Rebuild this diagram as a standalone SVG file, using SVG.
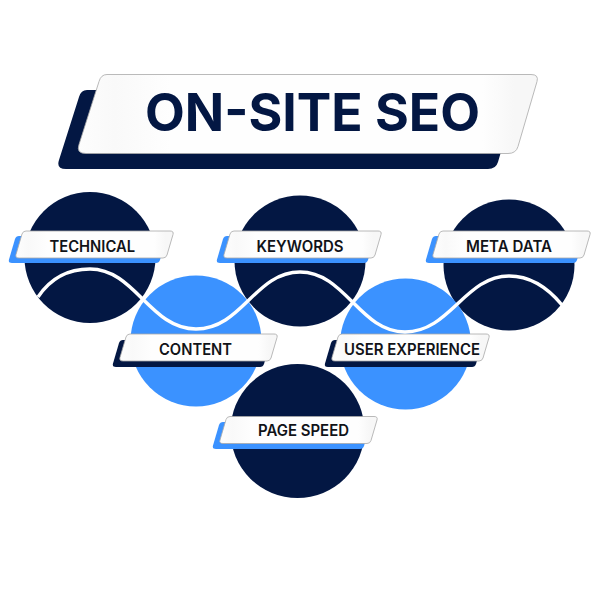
<svg xmlns="http://www.w3.org/2000/svg" width="600" height="600" viewBox="0 0 600 600">
<style>
.navy{fill:#031743}
.blue{fill:#3b92ff}
.face{fill:url(#sheen);stroke:#a8a8a8;stroke-width:.8}
.lbl{font-family:Inter,"Liberation Sans",sans-serif;font-weight:600;font-size:15.5px;fill:#111318}
.ttl{font-family:Inter,"Liberation Sans",sans-serif;font-weight:700;font-size:52px;fill:#031743}
#wave{fill:none;stroke:#fff;stroke-width:3.4}
</style>
<defs>
<linearGradient id="sheen" x1="0" y1="0" x2="1" y2="0">
<stop offset="0" stop-color="#fdfdfd"/>
<stop offset=".08" stop-color="#f9f9f9"/>
<stop offset=".2" stop-color="#fefefe"/>
<stop offset=".88" stop-color="#fefefe"/>
<stop offset=".95" stop-color="#f7f7f7"/>
<stop offset="1" stop-color="#f7f7f7"/>
</linearGradient>
<path id="tag" d="M10,0H154Q158,0 157,3.5L151,24Q150,27 147,27H3Q-1,27 0,23.5L6,3Q7,0 10,0Z"/>
<path id="banner" d="M29,0H453Q461,0 459,7L440,72Q438,79 430,79H8Q-2,79 1,70L21,7Q23,0 29,0Z"/>
</defs>
<rect width="600" height="600" fill="#fff"/>
<g id="title">
<use href="#banner" class="navy" x="58" y="90"/>
<use href="#banner" class="face" x="78" y="74.5"/>
<text class="ttl" x="145" y="130.5" textLength="335" lengthAdjust="spacingAndGlyphs">ON-SITE SEO</text>
</g>
<g id="technical">
<circle class="navy" cx="90" cy="257.5" r="65.5"/>
<use href="#tag" class="blue" x="9" y="236"/>
<use href="#tag" class="face" x="16" y="231"/>
<text class="lbl" x="49.500" y="252" textLength="85.500" lengthAdjust="spacingAndGlyphs">TECHNICAL</text>
</g>
<g id="keywords">
<circle class="navy" cx="300" cy="261" r="65.5"/>
<use href="#tag" class="blue" x="217" y="236"/>
<use href="#tag" class="face" x="224" y="231"/>
<text class="lbl" x="256.500" y="252" textLength="87" lengthAdjust="spacingAndGlyphs">KEYWORDS</text>
</g>
<g id="meta-data">
<circle class="navy" cx="509" cy="265" r="65.5"/>
<use href="#tag" class="blue" x="426" y="236"/>
<use href="#tag" class="face" x="433" y="231"/>
<text class="lbl" x="466" y="252" textLength="86" lengthAdjust="spacingAndGlyphs">META DATA</text>
</g>
<g id="content">
<circle class="blue" cx="196" cy="341" r="65.5"/>
<use href="#tag" class="navy" x="113" y="340"/>
<use href="#tag" class="face" x="120" y="334"/>
<text class="lbl" x="159" y="355" textLength="73" lengthAdjust="spacingAndGlyphs">CONTENT</text>
</g>
<g id="user-experience">
<circle class="blue" cx="405.500" cy="344" r="65.5"/>
<use href="#tag" class="navy" x="325" y="340"/>
<use href="#tag" class="face" x="332" y="334"/>
<text class="lbl" x="344" y="355" textLength="136" lengthAdjust="spacingAndGlyphs">USER EXPERIENCE</text>
</g>
<g id="page-speed">
<circle class="navy" cx="297.500" cy="431" r="67"/>
<use href="#tag" class="blue" x="213" y="422"/>
<use href="#tag" class="face" x="220" y="416.500"/>
<text class="lbl" x="258" y="436" textLength="91" lengthAdjust="spacingAndGlyphs">PAGE SPEED</text>
</g>
<g id="connectors">
<path id="wave" d="M38,297C50,279 68,269 90,269C135,269 150,329 196,329C242,329 255,272 300,272C345,272 360,332 405,332C450,332 465,276 509,276C530,276 548,288 562,305"/>
</g>
</svg>
